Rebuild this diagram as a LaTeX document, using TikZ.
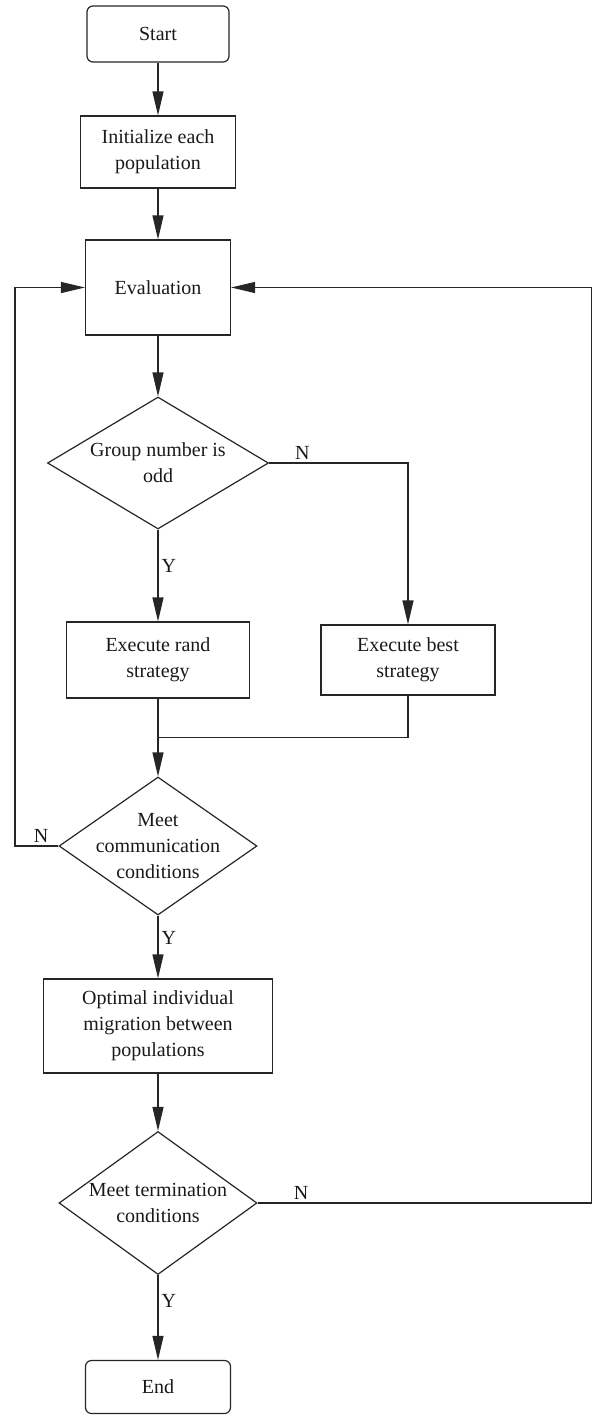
\documentclass[tikz,border=0pt]{standalone}
\usepackage{fontspec}
\setmainfont{Liberation Serif}
\usetikzlibrary{shapes.geometric, arrows.meta}

\begin{document}
\begin{tikzpicture}[node distance=90pt,
        font=\fontsize{10}{13}\selectfont,
        every node/.style={align=center, text=black!90},
        base/.style={draw=black!85, line width=0.6pt, inner sep=0pt},
        term/.style={base, rounded corners=3pt},
        proc/.style={base, rectangle},
        cond/.style={base, diamond, inner xsep=-8pt, inner ysep=-6pt},
        flow/.style={draw=black!85, line width=0.6pt, -{Triangle[length=12pt,width=5.5pt]}},
        plain/.style={draw=black!85, line width=0.6pt},
        lab/.style={inner sep=1.5pt}]
        \useasboundingbox (0,0) rectangle (296pt,-710pt);

        \node (S)   [term, minimum width=71pt, minimum height=28pt] at (79pt,-17pt) {Start};
        \node (I)   [proc, minimum width=77.5pt, minimum height=36pt, below of=S, node distance=59pt] {Initialize each\\population};
        \node (Ev)  [proc, minimum width=72.5pt, minimum height=47.5pt, below of=I, node distance=67.75pt] {Evaluation};
        \node (Odd) [cond, minimum width=110.5pt, minimum height=66pt, below of=Ev, node distance=87.75pt] {Group number is\\odd};
        \node (Rd)  [proc, minimum width=91.5pt, minimum height=38pt, below of=Odd, node distance=98.5pt] {Execute rand\\strategy};
        \node (Bs)  [proc, minimum width=87pt, minimum height=35pt, right of=Rd, node distance=125pt] {Execute best\\strategy};
        \node (Com) [cond, minimum width=99pt, minimum height=69pt, below of=Rd, node distance=93pt] {Meet\\communication\\conditions};
        \node (Mig) [proc, minimum width=114.5pt, minimum height=47pt, below of=Com, node distance=90pt] {Optimal individual\\migration between\\populations};
        \node (Ter) [cond, minimum width=99pt, minimum height=71.5pt, below of=Mig, node distance=88.5pt] {Meet termination\\conditions};
        \node (E)   [term, minimum width=72.5pt, minimum height=26.5pt, below of=Ter, node distance=92pt] {End};

        % loop-back lines and the join under the two strategies
        \coordinate (lx) at (7.5pt,0);
        \coordinate (rx) at (295.6pt,0);
        \coordinate (J)  at ([yshift=-19.5pt]Rd.south);

        \draw[flow] (S) -- (I);
        \draw[flow] (I) -- (Ev);
        \draw[flow] (Ev) -- (Odd);
        \draw[flow] (Odd) -- node[lab, right, pos=0.4]{Y} (Rd);
        \draw[flow] (Odd.east) -| node[lab, above, pos=0.12]{N} (Bs);
        \draw[flow] (Rd) -- (Com);
        \draw[plain] (Bs) |- (J);
        \draw[flow] (Com) -- node[lab, right, pos=0.35]{Y} (Mig);
        \draw[flow] (Com.west) -- node[lab, above, pos=0.4]{N} (Com.west -| lx) |- (Ev.west);
        \draw[flow] (Mig) -- (Ter);
        \draw[flow] (Ter) -- node[lab, right, pos=0.3]{Y} (E);
        \draw[flow] (Ter.east) -- node[lab, above, pos=0.13]{N} (Ter.east -| rx) |- (Ev.east);
    \end{tikzpicture}
\end{document}
